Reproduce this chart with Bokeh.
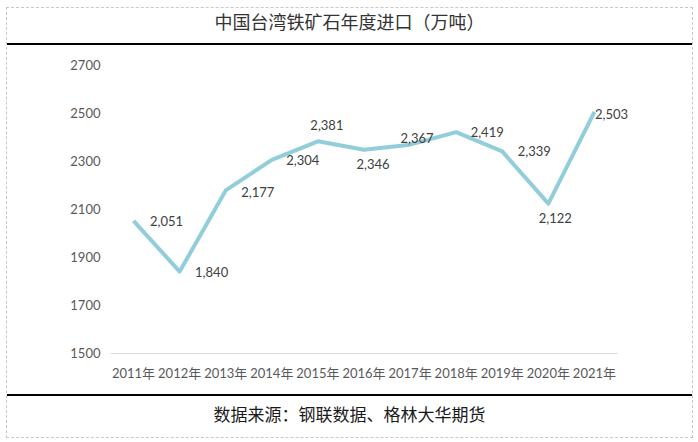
from bokeh.plotting import figure
from bokeh.layouts import column
from bokeh.models import Range1d, FixedTicker, ColumnDataSource, LabelSet, Div
from bokeh.core.properties import value
from bokeh.embed import file_html
from bokeh.resources import INLINE

# ---- data ----
title_text = "中国台湾铁矿石年度进口（万吨）"
source_text = "数据来源：钢联数据、格林大华期货"
years = ["2011年", "2012年", "2013年", "2014年", "2015年", "2016年",
         "2017年", "2018年", "2019年", "2020年", "2021年"]
imports = [2051, 1840, 2177, 2304, 2381, 2346, 2367, 2419, 2339, 2122, 2503]
labels = ["2,051", "1,840", "2,177", "2,304", "2,381", "2,346",
          "2,367", "2,419", "2,339", "2,122", "2,503"]
y_ticks = [1500, 1700, 1900, 2100, 2300, 2500, 2700]

# ---- label placement (style, screen px; dy positive = up) ----
label_dx = [33, 32, 32, 31, 9, 9, 7, 31, 32, 7, 17]
label_dy = [0, 0, -2, 0, 16, -14, 7, 0, 0, -14, -2]

W = 685
NUM_FONT = "Lato, 'Noto Sans CJK SC'"
CJK_FONT = "'Noto Sans CJK SC'"

# ---- top (title) ----
top = Div(text=title_text, width=W, height=37, margin=0,
          styles={"font-family": CJK_FONT, "font-size": "18px", "color": "#333333",
                  "text-align": "center", "line-height": "26px",
                  "border-bottom": "2px solid black", "box-sizing": "border-box",
                  "background": "white"})

# ---- middle (chart) ----
mid_h = 349
n = len(years)
x_idx = list(range(n))
cat_px = 507 / n             # width of one category in px
left_b, right_b = 103, 12
frame_w = W - left_b - right_b
y_min = y_ticks[0] - 3 / 0.24   # small gap so baseline is not clipped

p = figure(width=W, height=mid_h,
           x_range=Range1d(-0.5, -0.5 + frame_w / cat_px),
           y_range=Range1d(y_min, y_ticks[-1]),
           toolbar_location=None, output_backend="svg",
           min_border_left=left_b, min_border_right=right_b,
           min_border_top=19, min_border_bottom=38,
           outline_line_color=None, background_fill_color="white")
p.grid.visible = False

p.yaxis.ticker = FixedTicker(ticks=y_ticks)
p.yaxis.axis_line_color = None
p.yaxis.major_tick_line_color = None
p.yaxis.minor_tick_line_color = None
p.yaxis.major_tick_out = 0
p.yaxis.major_tick_in = 0
p.yaxis.major_label_standoff = 10
p.yaxis.major_label_text_font = NUM_FONT
p.yaxis.major_label_text_font_size = "13px"
p.yaxis.major_label_text_color = "#595959"

p.xaxis.ticker = FixedTicker(ticks=x_idx)
p.xaxis.major_label_overrides = {i: y for i, y in zip(x_idx, years)}
p.xaxis.axis_line_color = None
p.xaxis.major_tick_line_color = None
p.xaxis.minor_tick_line_color = None
p.xaxis.major_tick_out = 0
p.xaxis.major_tick_in = 0
p.xaxis.major_label_standoff = 8
p.xaxis.major_label_text_font = NUM_FONT
p.xaxis.major_label_text_font_size = "13px"
p.xaxis.major_label_text_color = "#595959"

# category axis baseline
p.segment(x0=[-0.5], x1=[n - 0.5], y0=[y_ticks[0]], y1=[y_ticks[0]],
          line_color="#D9D9D9", line_width=1)

src = ColumnDataSource(dict(x=x_idx, y=imports, t=labels, dx=label_dx, dy=label_dy))
p.line(x="x", y="y", source=src, line_color="#92CDDC", line_width=4, line_join="round")
p.add_layout(LabelSet(x="x", y="y", text="t", x_offset="dx", y_offset="dy", source=src,
                      text_align="center", text_baseline="middle",
                      text_font=value("Lato"), text_font_size="13px", text_color="#404040"))

# ---- bottom (source) ----
bot = Div(text=source_text, width=W, height=43, margin=0,
          styles={"font-family": CJK_FONT, "font-size": "17px", "color": "#1a1a1a",
                  "text-align": "center", "line-height": "36px",
                  "border-top": "2px solid black", "box-sizing": "border-box",
                  "background": "white"})

layout = column(top, p, bot, spacing=0,
                styles={"margin": "8px 0 0 7px", "outline": "1px dashed #C8C8C8"})

open("out.html", "w").write(file_html(layout, INLINE))
